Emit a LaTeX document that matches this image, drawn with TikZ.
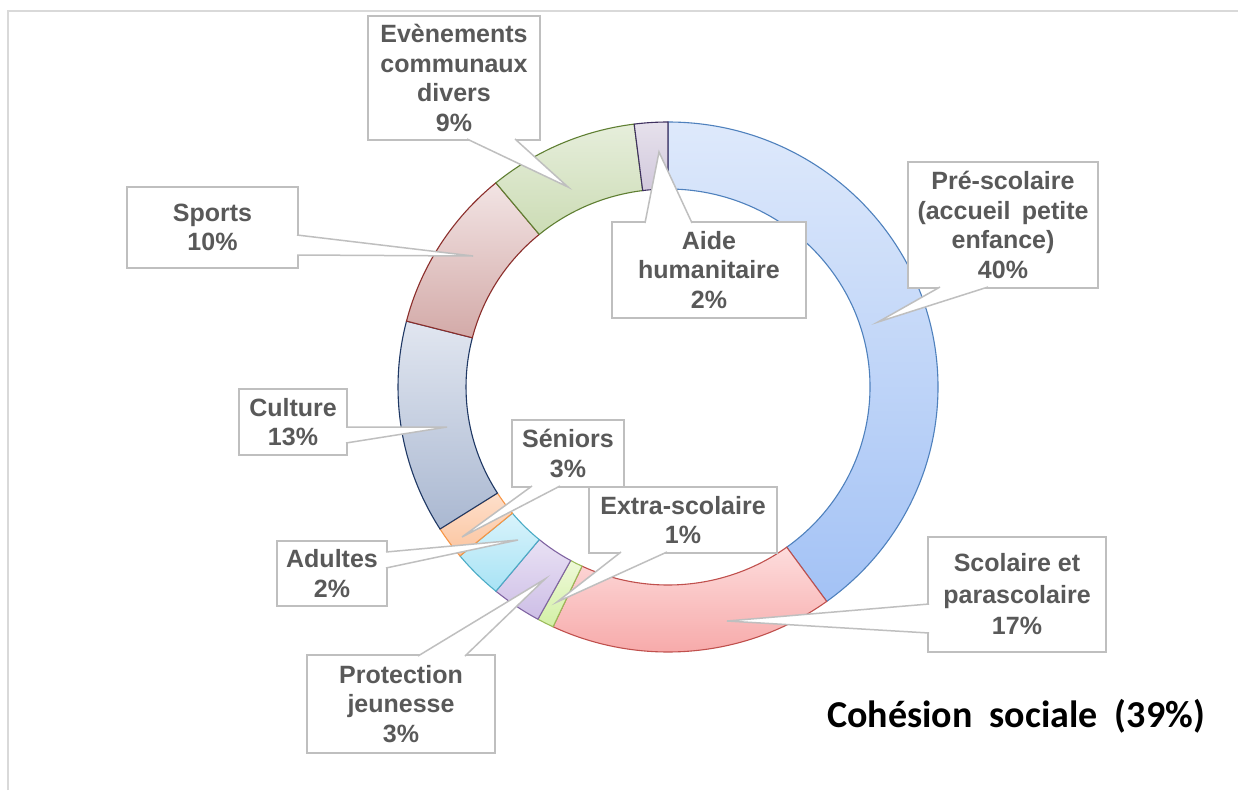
\documentclass[tikz,border=0pt]{standalone}
\usepackage{fontspec}
\setmainfont{Liberation Sans}
\newfontfamily\titlefont{Carlito}
\usetikzlibrary{calc}
\definecolor{lblgray}{HTML}{595959}
\definecolor{boxgray}{HTML}{BFBFBF}
\definecolor{framegray}{HTML}{D9D9D9}
\definecolor{preA}{HTML}{DEE9FB}\definecolor{preB}{HTML}{A3C2F5}\definecolor{preD}{HTML}{4F81BD}
\definecolor{scoA}{HTML}{FDDCDC}\definecolor{scoB}{HTML}{F6A3A3}\definecolor{scoD}{HTML}{C0504D}
\definecolor{extA}{HTML}{EEF9D8}\definecolor{extB}{HTML}{D3F0A6}\definecolor{extD}{HTML}{9BBB59}
\definecolor{proA}{HTML}{E9E1F4}\definecolor{proB}{HTML}{CDBEE6}\definecolor{proD}{HTML}{8064A2}
\definecolor{senA}{HTML}{D9F3FB}\definecolor{senB}{HTML}{A8E3F5}\definecolor{senD}{HTML}{4BACC6}
\definecolor{aduA}{HTML}{FDDFCB}\definecolor{aduB}{HTML}{FCC49E}\definecolor{aduD}{HTML}{F79646}
\definecolor{culA}{HTML}{E1E6F0}\definecolor{culB}{HTML}{AAB8D1}\definecolor{culD}{HTML}{1F3864}
\definecolor{spoA}{HTML}{F2E4E4}\definecolor{spoB}{HTML}{D3AAA8}\definecolor{spoD}{HTML}{8B2E2B}
\definecolor{evtA}{HTML}{E6EEDB}\definecolor{evtB}{HTML}{CCDCB5}\definecolor{evtD}{HTML}{5F7F32}
\definecolor{aidA}{HTML}{E6E1EC}\definecolor{aidB}{HTML}{D2C9DC}\definecolor{aidD}{HTML}{3F3160}
\newcommand\ringseg[3]{\path[#3] ($(C)+(#1:270 and 265)$) arc[start angle=#1,end angle=#2,x radius=270,y radius=265] -- ($(C)+(#2:202 and 198)$) arc[start angle=#2,end angle=#1,x radius=202,y radius=198] -- cycle;}
\tikzset{
  segstyle/.style={top color=#1A,bottom color=#1B,draw=#1D,line width=1.1pt},
  lbl/.style={draw=boxgray,line width=1.5pt,fill=white,text=lblgray,align=center,inner sep=0pt,outer sep=0pt,
    font=\bfseries\fontsize{25}{29.5}\selectfont},
  wedgestyle/.style={fill=white,draw=boxgray,line width=1.5pt,line join=miter},
}
\begin{document}
\begin{tikzpicture}[x=1pt,y=-1pt]
\useasboundingbox (0,0) rectangle (1238,790);
\fill[white] (0,0) rectangle (1238,790);
\draw[framegray,line width=2pt] (8,790) -- (8,11) -- (1238,11);
\coordinate (C) at (668,387);
% ring
\ringseg{-90}{54}{segstyle=pre}
\ringseg{54}{115.2}{segstyle=sco}
\ringseg{115.2}{118.8}{segstyle=ext}
\ringseg{118.8}{129.6}{segstyle=pro}
\ringseg{129.6}{140.4}{segstyle=sen}
\ringseg{140.4}{147.6}{segstyle=adu}
\ringseg{147.6}{194.4}{segstyle=cul}
\ringseg{194.4}{230.4}{segstyle=spo}
\ringseg{230.4}{262.8}{segstyle=evt}
\ringseg{262.8}{270}{segstyle=aid}
% label boxes
\node[lbl,minimum width=172pt,minimum height=124pt] (nE) at (454,78) {Evènements\\communaux\\divers\\9\%};
\node[lbl,minimum width=171pt,minimum height=81pt] (nS) at (212.5,227.5) {Sports\\10\%};
\node[lbl,minimum width=194pt,minimum height=96pt] (nA) at (709,270) {Aide\\humanitaire\\2\%};
\node[lbl,minimum width=190pt,minimum height=126pt] (nP) at (1003,225) {Pré-scolaire\\(accueil\hspace{0.45em}petite\\enfance)\\40\%};
\node[lbl,minimum width=108pt,minimum height=66pt] (nC) at (293,422) {Culture\\13\%};
\node[lbl,minimum width=112pt,minimum height=67pt] (nSe) at (568,453.5) {Séniors\\3\%};
\node[lbl,minimum width=110pt,minimum height=65pt] (nAd) at (332,573.5) {Adultes\\2\%};
\node[lbl,minimum width=188pt,minimum height=66pt] (nX) at (683,520) {Extra-scolaire\\1\%};
\node[lbl,minimum width=188pt,minimum height=98pt] (nJ) at (401,704) {Protection\\jeunesse\\3\%};
\node[lbl,minimum width=178pt,minimum height=115pt,font=\bfseries\fontsize{25}{31.5}\selectfont] (nSc) at (1017,594.5) {Scolaire et\\parascolaire\\17\%};
% pointer tips
\coordinate (tE) at (568,187);
\coordinate (tS) at (473,256);
\coordinate (tA) at (659,152);
\coordinate (tP) at (878,322);
\coordinate (tC) at (447,427);
\coordinate (tSe) at (462,537);
\coordinate (tAd) at (518,540);
\coordinate (tX) at (557,602);
\coordinate (tJ) at (545,579);
\coordinate (tSc) at (727,621);
% wedges
\filldraw[wedgestyle] ($(nE.south)+(13,-1)$) -- (tE) -- ($(nE.south)+(61,-1)$);
\filldraw[wedgestyle] ($(nS.east)+(-1,7.5)$) -- (tS) -- ($(nS.east)+(-1,27.5)$);
\filldraw[wedgestyle] ($(nA.north)+(-64,1)$) -- (tA) -- ($(nA.north)+(-17,1)$);
\filldraw[wedgestyle] ($(nP.south)+(-63,-1)$) -- (tP) -- ($(nP.south)+(-15,-1)$);
\filldraw[wedgestyle] ($(nC.east)+(-1,5)$) -- (tC) -- ($(nC.east)+(-1,21)$);
\filldraw[wedgestyle] ($(nSe.south)+(-36,-1)$) -- (tSe) -- ($(nSe.south)+(-8,-1)$);
\filldraw[wedgestyle] ($(nAd.east)+(-1,-21.5)$) -- (tAd) -- ($(nAd.east)+(-1,-5.5)$);
\filldraw[wedgestyle] ($(nX.south)+(-62,-1)$) -- (tX) -- ($(nX.south)+(-16,-1)$);
\filldraw[wedgestyle] ($(nJ.north)+(17,1)$) -- (tJ) -- ($(nJ.north)+(64,1)$);
\filldraw[wedgestyle] ($(nSc.west)+(1,9.5)$) -- (tSc) -- ($(nSc.west)+(1,38.5)$);
% title
\node[anchor=base,inner sep=0pt,font=\titlefont\bfseries\fontsize{38}{40}\selectfont] (title) at (1016,727) {Cohésion\hspace{0.45em}sociale\hspace{0.45em}(39\%)};
\end{tikzpicture}
\end{document}
